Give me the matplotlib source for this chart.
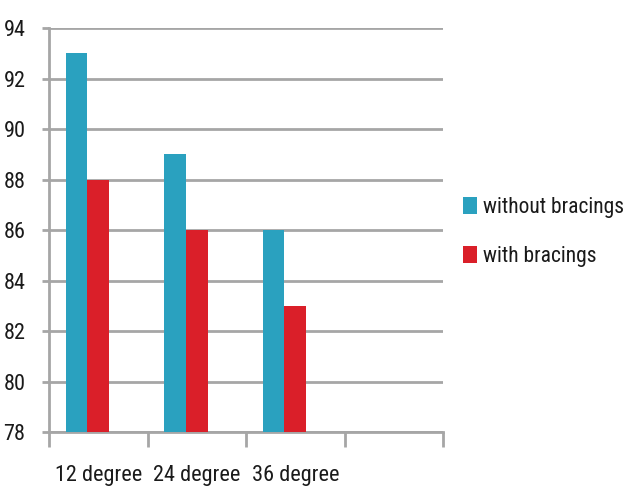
import matplotlib
matplotlib.use("Agg")
import matplotlib.pyplot as plt
from matplotlib import font_manager
import numpy as np

categories = ["12 degree", "24 degree", "36 degree", ""]
without_bracings = [93, 89, 86, np.nan]
with_bracings = [88, 86, 83, np.nan]
series_names = ["without bracings", "with bracings"]
y_ticks = [78, 80, 82, 84, 86, 88, 90, 92, 94]

# prefer a narrow face if one is installed
names = {f.name for f in font_manager.fontManager.ttflist}
narrow = [n for n in ["Liberation Sans Narrow", "Roboto Condensed", "Open Sans Condensed",
                      "DejaVu Sans Condensed"] if n in names]
plt.rcParams["font.family"] = narrow + ["DejaVu Sans"]
plt.rcParams["font.stretch"] = "condensed"

teal = "#2AA1BF"
red = "#DA1F29"
grid = "#A6A6A6"
text_col = "#1A1A1A"

fig = plt.figure(figsize=(6.26, 4.87), dpi=100)
ax = fig.add_axes([0.0783, 0.1129, 0.6294, 0.8296])

x = np.arange(len(categories))
w = 0.22
ax.bar(x - w, without_bracings, width=w, color=teal, label=series_names[0], zorder=3)
ax.bar(x, with_bracings, width=w, color=red, label=series_names[1], zorder=3)

ax.set_ylim(78, 94)
ax.set_xlim(-0.5, len(categories) - 0.5)
ax.set_yticks(y_ticks)
ax.yaxis.grid(True, color=grid, linewidth=2, zorder=0)
ax.set_axisbelow(True)

for s in ["top", "right"]:
    ax.spines[s].set_visible(False)
for s in ["left", "bottom"]:
    ax.spines[s].set_color(grid)
    ax.spines[s].set_linewidth(2)

# category boundaries get tick marks, labels sit at slot centres
ax.set_xticks(np.arange(len(categories) + 1) - 0.5)
ax.set_xticklabels([])
ax.set_xticks(x, minor=True)
ax.set_xticklabels(categories, minor=True)
ax.tick_params(axis="x", which="major", length=11, width=2, color=grid)
ax.tick_params(axis="x", which="minor", length=0, pad=24, labelsize=16, labelcolor=text_col)
ax.tick_params(axis="y", length=5, width=2, color=grid, pad=12, labelsize=16, labelcolor=text_col)

leg = fig.legend(loc="upper left", bbox_to_anchor=(0.740, 0.596), frameon=False,
                 borderpad=0, borderaxespad=0,
                 fontsize=15.5, labelcolor=text_col, handlelength=0.62, handleheight=0.85,
                 handletextpad=0.3, labelspacing=1.3)

fig.savefig("out.png", dpi=100)
